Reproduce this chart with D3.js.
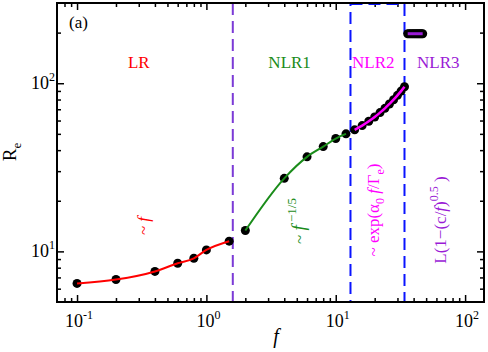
<!DOCTYPE html>
<meta charset="utf-8" />
<style>
  body { margin: 0; background: #fff; }
  text { font-family: "Times New Roman", "Liberation Serif", Times, serif; }
</style>
<body>
  <div id="chart"></div>
  <script src="https://cdn.jsdelivr.net/npm/d3@7"></script>
  <script>
    // data
    let lrF = [0.1, 0.2, 0.4, 0.6, 0.8, 1.0, 1.5];
    let lrR = [6.45, 6.8, 7.6, 8.5, 9.1, 10.2, 11.5];

    let nlr1F = [2, 4, 6, 8, 10, 12];
    let nlr1R = [13.3, 27.2, 36.5, 42.0, 46.9, 50.0];

    let nlr2F = [14, 16, 18, 20, 22, 24, 26, 28, 30, 32, 34];
    let nlr2R = [52.8, 56.0, 59.4, 63.0, 66.9, 70.9, 75.3, 79.8, 84.7, 89.8, 95.3];

    let nlr3F = [36, 37, 38, 39, 40, 41, 42, 43, 44, 45, 46, 47];
    let nlr3R = [197, 197, 197, 197, 197, 197, 197, 197, 197, 197, 197, 197];

    let xMajor = [0.1, 1, 10, 100];
    let xMajorExp = ["-1", "0", "1", "2"];
    let yMajor = [10, 100];
    let yMajorExp = ["1", "2"];

    let boundaryLR = 1.6;
    let boxNLR2 = [13, 34];

    let regions = [
      { name: "LR", f: 0.3, color: "red" },
      { name: "NLR1", f: 4.4, color: "#1a8c1a" },
      { name: "NLR2", f: 19.5, color: "#ff00ff" },
      { name: "NLR3", f: 62, color: "#9a1bd6" },
    ];

    var width = 488;
    var height = 352;
    let pLeft = 57, pRight = 484, pTop = 3, pBottom = 302;

    let svg = d3.select("#chart").append("svg").attr("width", width).attr("height", height);

    let x = d3.scaleLog().domain([0.07, 140]).range([pLeft, pRight]);
    let y = d3.scaleLog().domain([5, 300]).range([pBottom, pTop]);

    function minors(lo, hi) {
      let out = [];
      for (let e = -3; e <= 3; e++) {
        for (let k = 2; k <= 9; k++) {
          let v = k * Math.pow(10, e);
          if (v > lo && v < hi) out.push(v);
        }
      }
      return out;
    }
    let xMinor = minors(0.07, 140);
    let yMinor = minors(5, 300);

    // ticks, all pointing inward
    function tickAxis(axis, pos, vals, size) {
      let g = svg.append("g").attr("transform", pos)
        .call(axis.tickValues(vals).tickSize(size).tickFormat(""));
      g.select(".domain").remove();
      g.selectAll("line").attr("stroke", "black").attr("stroke-width", 1.5);
    }
    tickAxis(d3.axisBottom(x), `translate(0,${pBottom})`, xMajor, -7);
    tickAxis(d3.axisBottom(x), `translate(0,${pBottom})`, xMinor, -4);
    tickAxis(d3.axisTop(x), `translate(0,${pTop})`, xMajor, -7);
    tickAxis(d3.axisTop(x), `translate(0,${pTop})`, xMinor, -4);
    tickAxis(d3.axisLeft(y), `translate(${pLeft},0)`, yMajor, -7);
    tickAxis(d3.axisLeft(y), `translate(${pLeft},0)`, yMinor, -4);
    tickAxis(d3.axisRight(y), `translate(${pRight},0)`, yMajor, -7);
    tickAxis(d3.axisRight(y), `translate(${pRight},0)`, yMinor, -4);

    // tick labels
    xMajor.forEach((v, i) => {
      let t = svg.append("text").attr("x", x(v) + 2).attr("y", 327)
        .attr("text-anchor", "middle").attr("font-size", 18);
      t.append("tspan").text("10");
      t.append("tspan").attr("dy", -8).attr("font-size", 12).text(xMajorExp[i]);
    });
    yMajor.forEach((v, i) => {
      let t = svg.append("text").attr("x", 55).attr("y", y(v) + 6)
        .attr("text-anchor", "end").attr("font-size", 18);
      t.append("tspan").text("10");
      t.append("tspan").attr("dy", -8).attr("font-size", 12).text(yMajorExp[i]);
    });

    // region separators
    svg.append("line")
      .attr("x1", x(boundaryLR)).attr("x2", x(boundaryLR))
      .attr("y1", pTop).attr("y2", pBottom)
      .attr("stroke", "#7b3ad6").attr("stroke-width", 2)
      .attr("stroke-dasharray", "12,6");

    svg.append("rect")
      .attr("x", x(boxNLR2[0])).attr("y", pTop + 1)
      .attr("width", x(boxNLR2[1]) - x(boxNLR2[0]))
      .attr("height", pBottom - pTop - 1)
      .attr("fill", "none").attr("stroke", "#0a14ff").attr("stroke-width", 2)
      .attr("stroke-dasharray", "12,6");

    // points then fit lines
    function series(fs, rs, color, lw, curve) {
      let pts = fs.map((f, i) => [f, rs[i]]);
      svg.append("g").selectAll("circle").data(pts).enter().append("circle")
        .attr("cx", (d) => x(d[0])).attr("cy", (d) => y(d[1]))
        .attr("r", 4.5).attr("fill", "black");
      let line = d3.line().x((d) => x(d[0])).y((d) => y(d[1])).curve(curve);
      svg.append("path").datum(pts).attr("d", line)
        .attr("fill", "none").attr("stroke", color).attr("stroke-width", lw);
    }
    series(lrF, lrR, "red", 2, d3.curveMonotoneX);
    series(nlr1F, nlr1R, "#1a8c1a", 2, d3.curveMonotoneX);
    series(nlr2F, nlr2R, "#ff00ff", 2.5, d3.curveMonotoneX);
    series(nlr3F, nlr3R, "#9a1bd6", 3, d3.curveLinear);

    // frame
    svg.append("rect").attr("x", pLeft).attr("y", pTop)
      .attr("width", pRight - pLeft).attr("height", pBottom - pTop)
      .attr("fill", "none").attr("stroke", "black").attr("stroke-width", 2);

    // labels
    svg.append("text").attr("x", 69).attr("y", 28).attr("font-size", 17).text("(a)");

    regions.forEach((r) => {
      svg.append("text").attr("x", x(r.f)).attr("y", 68)
        .attr("text-anchor", "middle").attr("font-size", 17)
        .attr("fill", r.color).text(r.name);
    });

    function rotated(px, py, color) {
      return svg.append("text")
        .attr("transform", `translate(${px},${py}) rotate(-90)`)
        .attr("text-anchor", "middle").attr("font-size", 17).attr("fill", color);
    }

    let t1 = rotated(149, 226, "red");
    t1.append("tspan").text("~ ");
    t1.append("tspan").attr("font-style", "italic").text("f");

    let t2 = rotated(305, 221, "#1a8c1a");
    t2.append("tspan").text("~ ");
    t2.append("tspan").attr("font-style", "italic").attr("font-size", 19).text("f");
    t2.append("tspan").attr("dy", -9).attr("font-size", 13).text(" \u22121/5");

    let t3 = rotated(379, 210, "#ff00ff");
    t3.append("tspan").text("~ exp(\u03b1");
    t3.append("tspan").attr("dy", 5).attr("font-size", 12).text("0");
    t3.append("tspan").attr("dy", -5).attr("font-style", "italic").text(" f");
    t3.append("tspan").text("/\u0393");
    t3.append("tspan").attr("dy", 5).attr("font-size", 12).text("e");
    t3.append("tspan").attr("dy", -5).text(")");

    let t4 = rotated(446, 220, "#9a1bd6");
    t4.append("tspan").text("L(1\u2212(c/");
    t4.append("tspan").attr("font-style", "italic").text("f");
    t4.append("tspan").text(")");
    t4.append("tspan").attr("dy", -8).attr("font-size", 12).text("0.5");
    t4.append("tspan").attr("dy", 8).text(" )");

    // axis titles
    let yt = svg.append("text")
      .attr("transform", "translate(16,152) rotate(-90)")
      .attr("text-anchor", "middle").attr("font-size", 19);
    yt.append("tspan").text("R");
    yt.append("tspan").attr("dy", 5).attr("font-size", 13).text("e");

    svg.append("text").attr("x", 276).attr("y", 343)
      .attr("text-anchor", "middle").attr("font-size", 20)
      .attr("font-style", "italic").text("f");
  </script>
</body>
